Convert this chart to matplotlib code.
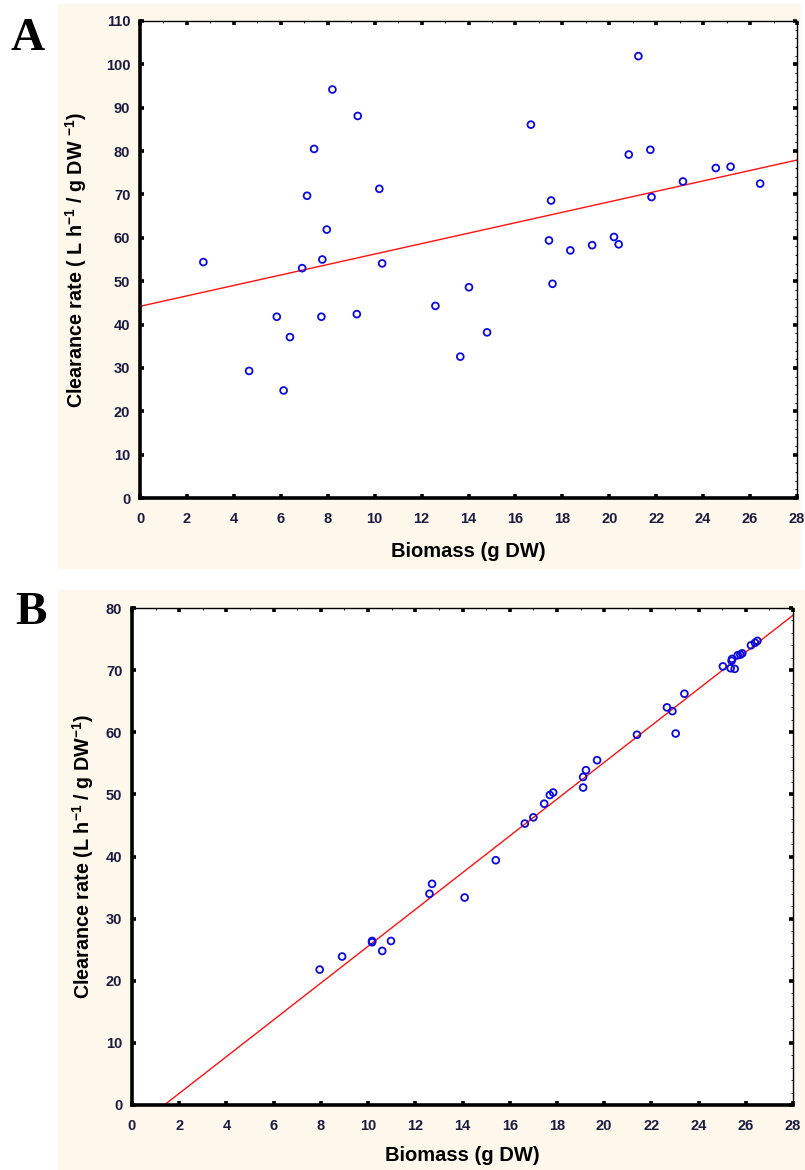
import numpy as np
import matplotlib
matplotlib.use("Agg")
import matplotlib.pyplot as plt
from matplotlib.patches import Rectangle

plt.rcParams['font.family'] = ['Liberation Sans', 'DejaVu Sans']
plt.rcParams['mathtext.fontset'] = 'custom'
plt.rcParams['mathtext.rm'] = 'Liberation Sans'
plt.rcParams['mathtext.bf'] = 'Liberation Sans:bold'

# Panel A data: biomass (g DW) vs clearance rate
biomass_a = [2.7, 4.65, 5.83, 6.12, 6.39, 6.91, 7.12, 7.42, 7.73, 7.77, 7.96, 8.2,
             9.24, 9.28, 10.2, 10.32, 12.59, 13.65, 14.02, 14.79, 16.66, 17.43,
             17.52, 17.58, 18.34, 19.27, 20.2, 20.4, 20.83, 21.24, 21.75, 21.8,
             23.14, 24.54, 25.17, 26.43]
clear_a = [54.4, 29.3, 41.8, 24.8, 37.1, 53.0, 69.7, 80.5, 41.8, 55.0, 61.9, 94.2,
           42.4, 88.1, 71.3, 54.1, 44.3, 32.6, 48.6, 38.2, 86.1, 59.4,
           68.6, 49.4, 57.1, 58.3, 60.2, 58.5, 79.2, 101.9, 80.3, 69.4,
           73.0, 76.1, 76.4, 72.5]
fit_a = [44.2, 1.205]  # intercept, slope

# Panel B data
biomass_b = [7.95, 8.9, 10.17, 10.17, 10.6, 10.97, 12.6, 12.71, 14.09, 15.41,
             16.64, 17.0, 17.46, 17.7, 17.84, 19.11, 19.11, 19.23, 19.7, 21.39,
             23.03, 22.89, 22.66, 23.4, 25.53, 25.36, 25.03, 25.4, 25.42, 25.66,
             25.77, 25.85, 26.22, 26.39, 26.49]
clear_b = [21.8, 23.9, 26.4, 26.2, 24.8, 26.4, 34.0, 35.6, 33.4, 39.4,
           45.3, 46.3, 48.5, 49.9, 50.3, 51.1, 52.8, 53.9, 55.5, 59.6,
           59.8, 63.4, 64.0, 66.2, 70.2, 70.3, 70.6, 71.5, 71.8, 72.4,
           72.5, 72.7, 74.0, 74.4, 74.7]
fit_b = [-4.05, 2.96]

fig = plt.figure(figsize=(8.05, 11.7), dpi=100)
cream = '#fdf7ec'
fig.patches.append(Rectangle((58 / 805, 1 - 568 / 1170), 742 / 805, 564 / 1170,
                             transform=fig.transFigure, color=cream, zorder=-10))
fig.patches.append(Rectangle((58 / 805, 0), 747 / 805, 580 / 1170,
                             transform=fig.transFigure, color=cream, zorder=-10))

tick_col = '#1b1b40'


def style_axes(ax, ymax, ystep):
    ax.set_xlim(0, 28)
    ax.set_ylim(0, ymax)
    ax.set_xticks(np.arange(0, 29, 2))
    ax.set_yticks(np.arange(0, ymax + 1, ystep))
    for s in ['left', 'bottom']:
        ax.spines[s].set_linewidth(2.6)
    for s in ['top', 'right']:
        ax.spines[s].set_linewidth(1.0)
    ax.tick_params(which='major', direction='in', length=3, width=2.6,
                   labelsize=10.5, labelcolor=tick_col)
    ax.tick_params(axis='x', which='major', top=True, pad=10)
    ax.tick_params(axis='y', which='major', right=True, pad=7)
    for lab in ax.get_xticklabels() + ax.get_yticklabels():
        lab.set_fontweight('bold')
    ax.set_yticks(np.arange(0, ymax + 1, ystep / 5), minor=True)
    ax.set_xticks(np.arange(0, 29, 1), minor=True)
    ax.tick_params(which='minor', direction='in', length=1.5, width=0.6,
                   left=False, bottom=False, right=True, top=True)


# Panel A
ax1 = fig.add_axes([140 / 805, 1 - 498 / 1170, 657 / 805, 477 / 1170])
ax1.set_zorder(5)
ax1.scatter(biomass_a, clear_a, s=24, facecolors='none', edgecolors='#0a0ae0',
            linewidths=1.3, zorder=3)
xs = np.array([0, 28])
ax1.plot(xs, fit_a[0] + fit_a[1] * xs, color='#ff1010', lw=1.0, zorder=2)
style_axes(ax1, 110, 10)
ax1.set_xlabel('Biomass (g DW)', fontsize=14.5, fontweight='bold')
ax1.set_ylabel(r'Clearance rate ( L h$^{\mathbf{-1}}$ / g DW $^{\mathbf{-1}}$)',
               fontsize=14.2, fontweight='bold')
ax1.xaxis.set_label_coords(0.5, -0.092)
ax1.yaxis.set_label_coords(-0.077, 0.5)
fig.text(28 / 805, 1 - 39 / 1170, 'A', fontsize=34, fontweight='bold',
         family='Liberation Serif', ha='center', va='center')

# Panel B
ax2 = fig.add_axes([132 / 805, 1 - 1105 / 1170, 661 / 805, 497 / 1170])
ax2.set_zorder(5)
ax2.scatter(biomass_b, clear_b, s=24, facecolors='none', edgecolors='#0a0ae0',
            linewidths=1.3, zorder=3)
ax2.plot(xs, fit_b[0] + fit_b[1] * xs, color='#ff1010', lw=1.0, zorder=2)
style_axes(ax2, 80, 10)
ax2.set_xlabel('Biomass (g DW)', fontsize=14.5, fontweight='bold')
ax2.set_ylabel(r'Clearance rate (L h$^{\mathbf{-1}}$ / g DW$^{\mathbf{-1}}$)',
               fontsize=14.2, fontweight='bold')
ax2.xaxis.set_label_coords(0.5, -0.083)
ax2.yaxis.set_label_coords(-0.055, 0.5)
fig.text(31 / 805, 1 - 613 / 1170, 'B', fontsize=34, fontweight='bold',
         family='Liberation Serif', ha='center', va='center')

fig.savefig('out.png', dpi=100)
